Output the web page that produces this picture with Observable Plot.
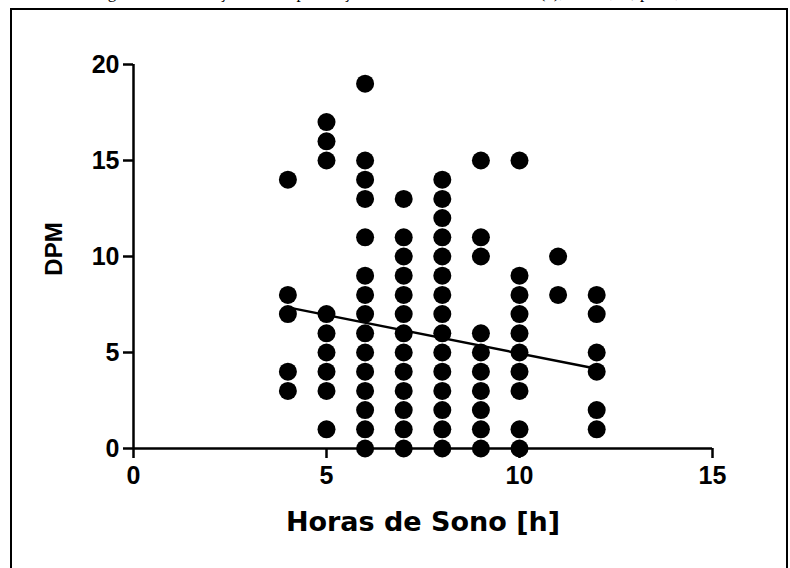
<!DOCTYPE html>
<html><head><meta charset="utf-8">
<script src="https://cdn.jsdelivr.net/npm/d3@7"></script>
<script src="https://cdn.jsdelivr.net/npm/@observablehq/plot@0.6"></script>
<style>
body{margin:0;background:#fff;}
#wrap{position:relative;width:790px;height:568px;overflow:hidden;background:#fff}
#frame{position:absolute;left:10px;top:8px;width:778px;height:600px;border:2px solid #000;box-sizing:border-box}
#cap{position:absolute;left:0;top:0;width:790px;height:8px;overflow:hidden}
#cap span{position:absolute;top:-16px;left:0;width:790px;text-align:center;font-family:"Liberation Serif","Times New Roman",serif;font-size:17px;line-height:17px;white-space:nowrap;color:#000}
#chart{position:absolute;left:0;top:0}
#ylab{position:absolute;left:54px;top:249px;transform:translate(-50%,-50%) rotate(-90deg);font-family:"Liberation Sans",Arial,sans-serif;font-weight:bold;font-size:24px;line-height:24px;white-space:nowrap;color:#000}
</style></head>
<body>
<div id="wrap">
  <div id="cap"><span>Figura 3 – Correlação entre a pontuação DPM e as horas de sono (h), r = −0,16; p = 0,05</span></div>
  <div id="frame"></div>
  <div id="chart"></div>
  <div id="ylab"></div>
</div>
<script>
// Hours of sleep (x) and DPM values (y) observed at each hour column
const hours = [4, 5, 6, 7, 8, 9, 10, 11, 12];
const dpmAt4 = [14, 8, 7, 4, 3];
const dpmAt5 = [17, 16, 15, 7, 6, 5, 4, 3, 1];
const dpmAt6 = [19, 15, 14, 13, 11, 9, 8, 7, 6, 5, 4, 3, 2, 1, 0];
const dpmAt7 = [13, 11, 10, 9, 8, 7, 6, 5, 4, 3, 2, 1, 0];
const dpmAt8 = [14, 13, 12, 11, 10, 9, 8, 7, 6, 5, 4, 3, 2, 1, 0];
const dpmAt9 = [15, 11, 10, 6, 5, 4, 3, 2, 1, 0];
const dpmAt10 = [15, 9, 8, 7, 6, 5, 4, 3, 1, 0];
const dpmAt11 = [10, 8];
const dpmAt12 = [8, 7, 5, 4, 2, 1];
// Fitted regression line
const fitHours = [4, 12];
const fitDpm = [7.35, 4.15];
// Axis ticks and titles
const xTicks = [0, 5, 10, 15];
const yTicks = [0, 5, 10, 15, 20];
const xLabel = "Horas de Sono [h]";
const yLabel = "DPM";

const columns = [dpmAt4, dpmAt5, dpmAt6, dpmAt7, dpmAt8, dpmAt9, dpmAt10, dpmAt11, dpmAt12];
const points = hours.flatMap((h, i) => columns[i].map(d => ({h, d})));
const fit = fitHours.map((h, i) => ({h, d: fitDpm[i]}));

const chart = Plot.plot({
  width: 790,
  height: 568,
  marginLeft: 133,
  marginRight: 78,
  marginTop: 64,
  marginBottom: 120,
  x: {domain: [0, 15]},
  y: {domain: [0, 20]},
  style: {fontFamily: "'Liberation Sans', Arial, sans-serif", background: "transparent", overflow: "visible", color: "#000"},
  marks: [
    Plot.ruleY([0], {x1: 0, x2: 15, strokeWidth: 2.5}),
    Plot.ruleX([0], {y1: 0, y2: 20, strokeWidth: 2.5}),
    Plot.axisX({ticks: xTicks, tickSize: 10, tickPadding: 8, strokeWidth: 2.5, fontSize: 25, fontWeight: "bold", label: null}),
    Plot.axisY({ticks: yTicks, tickSize: 10, tickPadding: 4, strokeWidth: 2.5, fontSize: 25, fontWeight: "bold", label: null}),
    Plot.dot(points, {x: "h", y: "d", r: 9, fill: "#000", stroke: null}),
    Plot.line(fit, {x: "h", y: "d", stroke: "#000", strokeWidth: 2.5}),
    Plot.text([xLabel], {text: d => d, frameAnchor: "bottom", dy: 82, lineAnchor: "bottom", fontSize: 27, fontWeight: "bold", fontFamily: "DejaVu Sans"})
  ]
});
document.getElementById("chart").appendChild(chart);
document.getElementById("ylab").textContent = yLabel;
</script>
</body></html>
